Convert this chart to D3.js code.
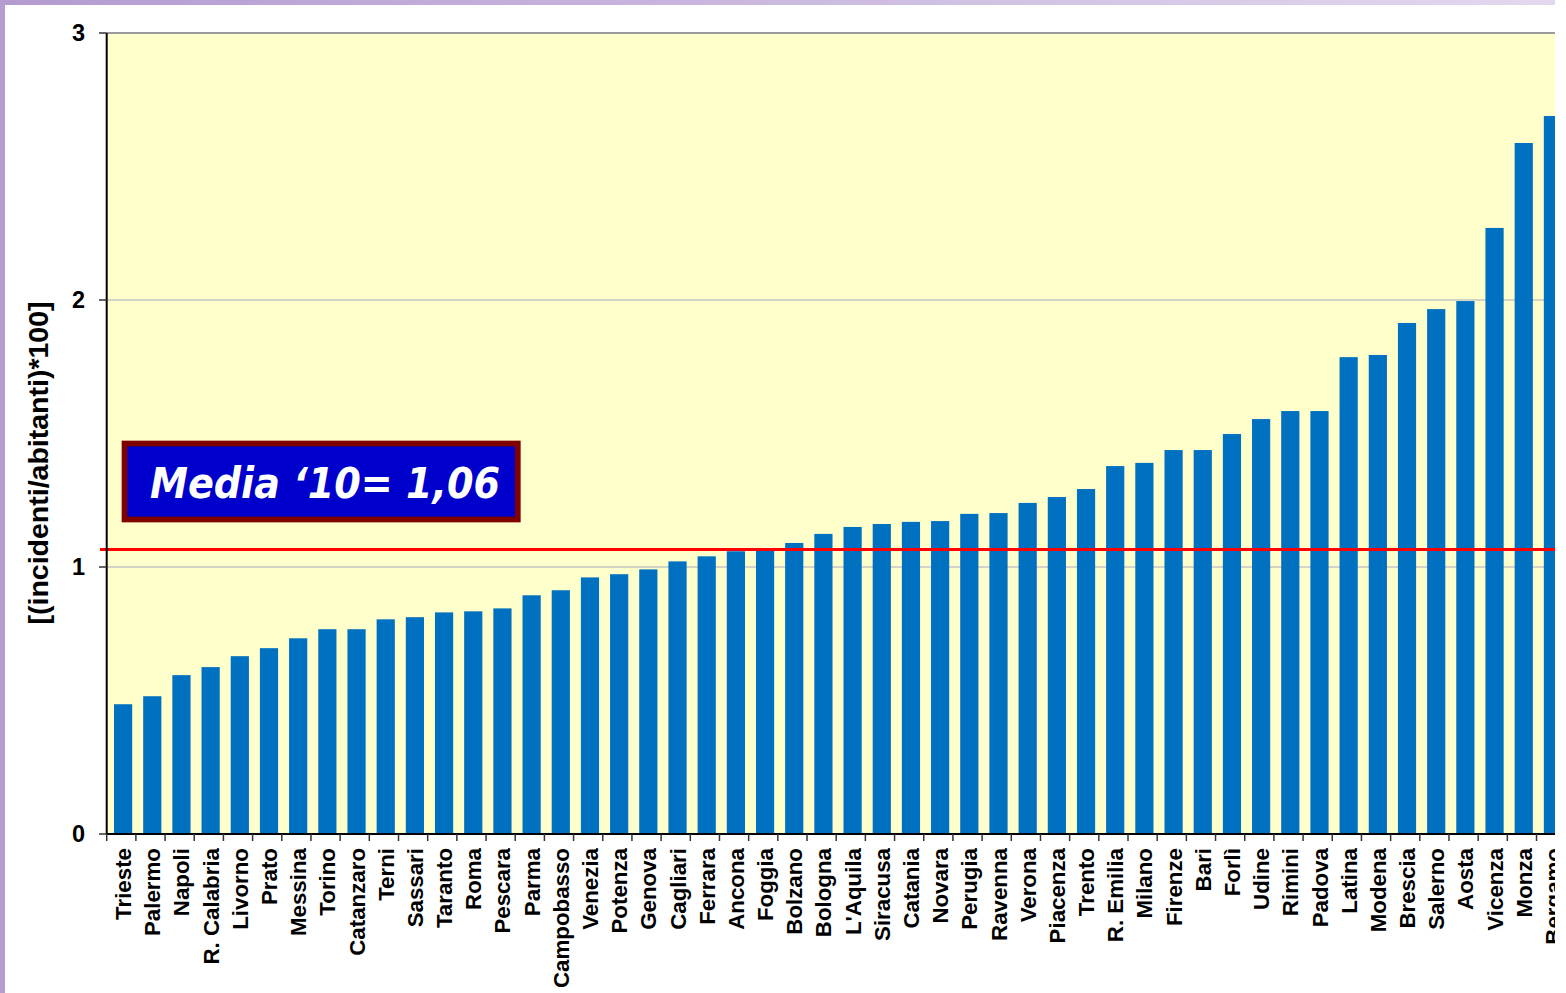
<!DOCTYPE html>
<html>
<head>
<meta charset="utf-8">
<script src="https://cdn.jsdelivr.net/npm/d3@7"></script>
<style>
  html, body { margin: 0; padding: 0; background: #fff; }
  svg { display: block; }
</style>
</head>
<body>
<svg id="chart" width="1566" height="993"></svg>
<script>
// ---- data ----
const cities = ["Trieste","Palermo","Napoli","R. Calabria","Livorno","Prato","Messina","Torino","Catanzaro","Terni",
  "Sassari","Taranto","Roma","Pescara","Parma","Campobasso","Venezia","Potenza","Genova","Cagliari",
  "Ferrara","Ancona","Foggia","Bolzano","Bologna","L'Aquila","Siracusa","Catania","Novara","Perugia",
  "Ravenna","Verona","Piacenza","Trento","R. Emilia","Milano","Firenze","Bari","Forlì","Udine",
  "Rimini","Padova","Latina","Modena","Brescia","Salerno","Aosta","Vicenza","Monza","Bergamo"];
const rates = [0.486,0.516,0.595,0.625,0.666,0.696,0.733,0.767,0.767,0.804,
  0.812,0.830,0.834,0.845,0.894,0.913,0.961,0.973,0.991,1.021,
  1.040,1.059,1.070,1.090,1.124,1.150,1.161,1.169,1.172,1.199,
  1.202,1.240,1.262,1.292,1.378,1.390,1.438,1.438,1.498,1.554,
  1.584,1.584,1.786,1.794,1.914,1.966,1.996,2.270,2.588,2.689];
const yTicks = [0, 1, 2, 3];
const meanValue = 1.066;
const meanLabel = "Media \u201810= 1,06";
const yTitle = "[(incidenti/abitanti)*100]";

(function () {
// ---- layout ----
const svg = d3.select("#chart");
const W = 1566, H = 993, clipRight = 1555;
const plotLeft = 106.7, step = 29.18, plotTop = 33, plotBottom = 834;
const barOffset = 7.3, barWidth = 18.2;

const defs = svg.append("defs");
defs.append("clipPath").attr("id", "pageclip")
  .append("rect").attr("x", 0).attr("y", 0).attr("width", clipRight).attr("height", H);
const lg = defs.append("linearGradient").attr("id", "frameGrad")
  .attr("x1", "0%").attr("x2", "100%").attr("y1", "0%").attr("y2", "0%");
lg.append("stop").attr("offset", "0%").attr("stop-color", "#b39bd1");
lg.append("stop").attr("offset", "100%").attr("stop-color", "#e3d8ee");

const g = svg.append("g").attr("clip-path", "url(#pageclip)");

// frame
g.append("rect").attr("x", 0).attr("y", 0).attr("width", clipRight).attr("height", 5).attr("fill", "url(#frameGrad)");
g.append("rect").attr("x", 0).attr("y", 0).attr("width", 5).attr("height", H).attr("fill", "#b59dd2");

const x = d3.scaleBand().domain(cities).range([plotLeft, plotLeft + step * cities.length]).padding(0);
const y = d3.scaleLinear().domain([0, 3]).range([plotBottom, plotTop]);

// plot area
g.append("rect").attr("x", plotLeft).attr("y", plotTop).attr("width", W - plotLeft).attr("height", plotBottom - plotTop).attr("fill", "#ffffcc");

// gridlines
g.selectAll("line.grid").data(yTicks.filter(d => d > 0 && d < 3)).enter().append("line")
  .attr("x1", plotLeft).attr("x2", W).attr("y1", d => y(d)).attr("y2", d => y(d))
  .attr("stroke", "#c4c4c4").attr("stroke-width", 1.5);
g.append("line").attr("x1", plotLeft).attr("x2", W).attr("y1", y(3)).attr("y2", y(3))
  .attr("stroke", "#9a9a9a").attr("stroke-width", 2);

// bars
g.selectAll("rect.bar").data(cities).enter().append("rect").attr("class", "bar")
  .attr("x", d => x(d) + barOffset).attr("width", barWidth)
  .attr("y", (d, i) => y(rates[i])).attr("height", (d, i) => y(0) - y(rates[i]))
  .attr("fill", "#0070c0");

// mean line
g.append("line").attr("x1", 100).attr("x2", W).attr("y1", y(meanValue)).attr("y2", y(meanValue))
  .attr("stroke", "#ff0000").attr("stroke-width", 3);

// axes
g.append("line").attr("x1", plotLeft).attr("x2", plotLeft).attr("y1", plotTop).attr("y2", plotBottom)
  .attr("stroke", "#000").attr("stroke-width", 2);
g.append("line").attr("x1", plotLeft).attr("x2", W).attr("y1", plotBottom).attr("y2", plotBottom)
  .attr("stroke", "#000").attr("stroke-width", 2);

// y ticks
g.selectAll("line.yt").data(yTicks).enter().append("line")
  .attr("x1", 99).attr("x2", plotLeft).attr("y1", d => y(d)).attr("y2", d => y(d))
  .attr("stroke", "#333").attr("stroke-width", 1.5);
g.selectAll("text.yl").data(yTicks).enter().append("text")
  .attr("x", 85).attr("y", d => y(d)).attr("dy", "0.36em")
  .attr("text-anchor", "end").attr("font-family", "Liberation Sans, Arial, sans-serif")
  .attr("font-weight", "bold").attr("font-size", 23.5).attr("fill", "#000").text(d => d);

// x ticks at band boundaries
const boundaries = cities.map(c => x(c)).concat([x(cities[cities.length - 1]) + step]);
g.selectAll("line.xt").data(boundaries).enter().append("line")
  .attr("x1", d => d).attr("x2", d => d).attr("y1", plotBottom).attr("y2", plotBottom + 7)
  .attr("stroke", "#333").attr("stroke-width", 1.5);

// x labels
g.selectAll("text.xl").data(cities).enter().append("text")
  .attr("transform", d => `translate(${x(d) + barOffset + barWidth / 2},848) rotate(-90)`)
  .attr("dy", "0.36em").attr("text-anchor", "end")
  .attr("font-family", "Liberation Sans, Arial, sans-serif").attr("font-weight", "bold")
  .attr("font-size", 22.3).attr("fill", "#000").text(d => d);

// y title
g.append("text").attr("transform", "translate(38,463) rotate(-90)")
  .attr("dy", "0.36em").attr("text-anchor", "middle")
  .attr("font-family", "Liberation Sans, Arial, sans-serif").attr("font-weight", "bold")
  .attr("font-size", 28.5).attr("fill", "#000").text(yTitle);

// mean annotation box
g.append("rect").attr("x", 124.5).attr("y", 443.5).attr("width", 393.3).attr("height", 76)
  .attr("fill", "#0000cc").attr("stroke", "#800000").attr("stroke-width", 5.7);
g.append("text").attr("x", 150).attr("y", 498)
  .attr("font-family", "DejaVu Sans, Verdana, sans-serif").attr("font-weight", "bold")
  .attr("font-style", "italic").attr("font-size", 42)
  .attr("textLength", 350).attr("lengthAdjust", "spacingAndGlyphs")
  .attr("fill", "#fff").text(meanLabel);
})();
</script>
</body>
</html>
